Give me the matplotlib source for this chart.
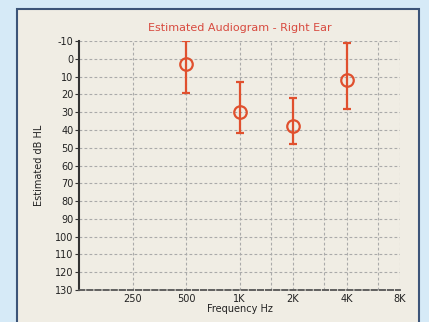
import matplotlib
matplotlib.use("Agg")
import matplotlib.pyplot as plt
from matplotlib.patches import Rectangle
from matplotlib.ticker import FixedLocator, NullFormatter

plt.rcParams["axes.unicode_minus"] = False

# Data
freqs = [500, 1000, 2000, 4000]
thresholds = [3, 30, 38, 12]
lower_err = [13, 17, 16, 21]   # toward smaller dB (upwards on plot)
upper_err = [16, 12, 10, 16]   # toward larger dB (downwards on plot)

xtick_vals = [250, 500, 1000, 2000, 4000, 8000]
xtick_labels = ["250", "500", "1K", "2K", "4K", "8K"]
minor_grid = [1500, 3000, 6000]
ytick_vals = list(range(-10, 131, 10))

fig = plt.figure(figsize=(4.29, 3.22), dpi=100)
fig.patch.set_facecolor("#d6eaf7")

W, H = 429, 322
panel = Rectangle((16.5 / W, 1 - 330 / H), (419 - 16.5) / W, (330 - 9) / H,
                  transform=fig.transFigure, facecolor="#f0ede4",
                  edgecolor="#3c5478", linewidth=1.5, zorder=-5)
fig.patches.append(panel)

ax = fig.add_axes([79 / W, 1 - 290 / H, (400 - 79) / W, (290 - 41) / H])
ax.set_zorder(2)
ax.set_facecolor("none")
ax.set_xscale("log")
ax.set_xlim(125, 8000)
ax.set_ylim(130, -10)

ax.xaxis.set_major_locator(FixedLocator(xtick_vals))
ax.set_xticklabels(xtick_labels)
ax.xaxis.set_minor_locator(FixedLocator(minor_grid))
ax.xaxis.set_minor_formatter(NullFormatter())
ax.set_yticks(ytick_vals)

ax.grid(True, which="both", color="#aaaaaa", linestyle=(0, (2.5, 2)), linewidth=0.8)
ax.set_axisbelow(True)

for s in ["top", "right"]:
    ax.spines[s].set_visible(False)
ax.spines["left"].set_color("#333333")
ax.spines["left"].set_linewidth(1.5)
ax.spines["bottom"].set_color("#555555")
ax.spines["bottom"].set_linestyle((0, (3, 1.5)))
ax.spines["bottom"].set_linewidth(1.3)

ax.tick_params(axis="y", length=3, width=0.8, color="#333333", labelsize=7, pad=1, labelcolor="#222222")
ax.tick_params(axis="x", which="both", length=0, labelsize=7, pad=3, labelcolor="#222222")

col = "#e0502e"
ax.errorbar(freqs, thresholds, yerr=[lower_err, upper_err], fmt="o", color=col,
            ecolor=col, elinewidth=1.6, capsize=3, capthick=1.6,
            markersize=9, markerfacecolor="none", markeredgewidth=1.6, zorder=5)

ax.set_title("Estimated Audiogram - Right Ear", color="#d84a3f", fontsize=8, pad=7)
ax.set_xlabel("Frequency Hz", fontsize=7, labelpad=0, color="#222222")
ax.set_ylabel("Estimated dB HL", fontsize=7, labelpad=8, color="#222222")

fig.savefig("out.png", dpi=100, facecolor=fig.get_facecolor())
